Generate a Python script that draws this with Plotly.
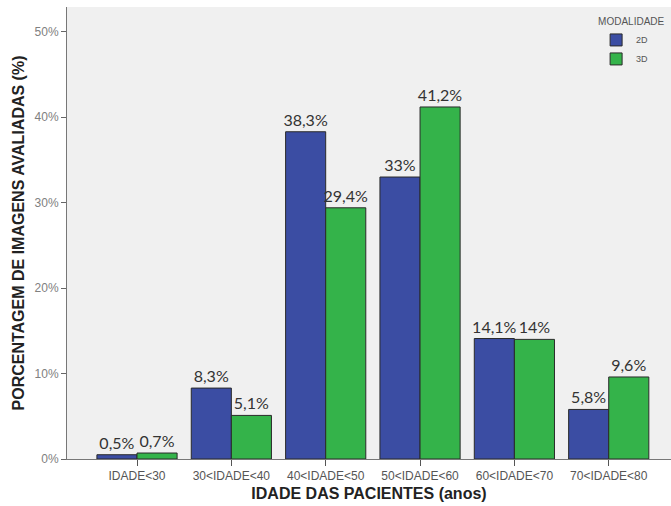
import plotly.graph_objects as go

categories = ["IDADE<30", "30<IDADE<40", "40<IDADE<50", "50<IDADE<60", "60<IDADE<70", "70<IDADE<80"]
values_2d = [0.5, 8.3, 38.3, 33, 14.1, 5.8]
values_3d = [0.7, 5.1, 29.4, 41.2, 14, 9.6]
y_ticks = [0, 10, 20, 30, 40, 50]
y_tick_labels = ["0%", "10%", "20%", "30%", "40%", "50%"]


def fmt(v):
    return f"{v:g}".replace(".", ",") + "%"


x_idx = list(range(len(categories)))
label_font = dict(family="Lato, Open Sans, sans-serif", size=16, color="#333333")

fig = go.Figure()
fig.add_trace(go.Bar(
    x=x_idx, y=values_2d, name="2D",
    marker=dict(color="#3B4DA3", line=dict(color="#2a2a2a", width=1)),
    text=[fmt(v) for v in values_2d], textposition="outside",
    textfont=label_font, cliponaxis=False, constraintext="none",
))
fig.add_trace(go.Bar(
    x=x_idx, y=values_3d, name="3D",
    marker=dict(color="#34B34A", line=dict(color="#2a2a2a", width=1)),
    text=[fmt(v) for v in values_3d], textposition="outside",
    textfont=label_font, cliponaxis=False, constraintext="none",
))

fig.update_layout(
    width=671, height=506,
    margin=dict(l=67, r=0, t=7, b=47),
    paper_bgcolor="white",
    plot_bgcolor="#F0F0F0",
    barmode="group", bargap=0.15, bargroupgap=0,
    font=dict(family="Liberation Sans, Arial, sans-serif"),
    showlegend=True,
    legend=dict(
        title=dict(text="MODALIDADE", font=dict(size=10, color="#555555")),
        font=dict(size=9, color="#555555"),
        x=0.876, y=0.988, xanchor="left", yanchor="top",
        bgcolor="rgba(0,0,0,0)",
        itemwidth=30, tracegroupgap=0,
    ),
    xaxis=dict(
        range=[-0.742, 5.66],
        tickmode="array", tickvals=x_idx, ticktext=categories,
        tickfont=dict(size=12, color="#555555"),
        ticks="outside", ticklen=6, tickcolor="#555555",
        showline=True, linecolor="#777777", linewidth=1,
        showgrid=False, zeroline=False,
        title=dict(text="<b>IDADE DAS PACIENTES (anos)</b>", font=dict(size=16, color="#222222"), standoff=5),
    ),
    yaxis=dict(
        range=[0, 52.9],
        tickmode="array", tickvals=y_ticks, ticktext=y_tick_labels,
        tickfont=dict(size=12, color="#808080"),
        ticks="outside", ticklen=5, tickcolor="#666666",
        showline=True, linecolor="#777777", linewidth=1,
        showgrid=False, zeroline=False,
        title=dict(text="<b>PORCENTAGEM DE IMAGENS AVALIADAS (%)</b>", font=dict(size=16, color="#222222"), standoff=5),
    ),
)

fig.write_html("out.html")
